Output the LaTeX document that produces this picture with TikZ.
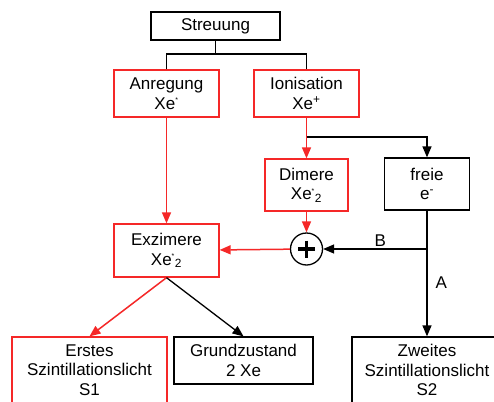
\documentclass[tikz,border=0pt]{standalone}
\usepackage{fontspec}
\setmainfont{Liberation Sans}
\usetikzlibrary{arrows.meta}
\definecolor{lightred}{RGB}{245,40,40}
\newcommand{\smallstar}{\textsuperscript{\fontsize{7}{7}\selectfont *}}

\begin{document}
\begin{tikzpicture}[x=1pt, y=-1pt, line width=1.3pt, >={Triangle[length=11pt,width=9pt]},
	every node/.style={font=\fontsize{17}{19.5}\selectfont, align=center, inner sep=0pt},
	box/.style 2 args={draw, fill=white, minimum width=#1, minimum height=#2},
	redbox/.style 2 args={box={#1}{#2}, draw=lightred},
	redline/.style={draw=lightred, line width=1.5pt, ->}]
	\fill[white] (0,0) rectangle (494,401);
	\useasboundingbox (0,0) rectangle (494,401);
	\node[box={129}{28}] (streu) at (215.5,26) {Streuung};
	\node[redbox={105}{47}] (anreg) at (166.5,93.5) {Anregung\\Xe\smallstar};
	\node[redbox={105}{47}] (ion) at (306.5,93.5) {Ionisation\\Xe\textsuperscript{+}};
	\node[redbox={83}{52}] (dim) at (306.5,185) {Dimere\\Xe\smallstar\textsubscript{2}};
	\node[box={85}{52}] (frei) at (427,184) {freie\\e\textsuperscript{-}};
	\node[draw, circle, fill=white, minimum size=32, path picture={
		\draw[line width=3.5pt] (path picture bounding box.center) ++(-8.5,0) -- ++(17,0);
		\draw[line width=3.5pt] (path picture bounding box.center) ++(0,-8.5) -- ++(0,17);}] (plus) at (306.5,249) {};
	\node[redbox={105}{53}] (exz) at (166.5,250.5) {Exzimere\\Xe\smallstar\textsubscript{2}};
	\node[redbox={155}{66}] (erst) at (89.5,370) {Erstes\\Szintillationslicht\\S1};
	\node[box={139}{47}] (grund) at (243.5,360.5) {Grundzustand\\2 Xe};
	\node[box={150}{66}] (zweit) at (427,370) {Zweites\\Szintillationslicht\\S2};

	\coordinate (split) at (215.5,54);
	\coordinate (ionsplit) at (306.5,137);
	\coordinate (fork) at (427,249);
	\draw (streu.south) -- (split);
	\draw (anreg.north) |- (split) -| (ion.north);
	\draw[redline] (anreg) -- (exz);
	\draw[redline] (ion) -- (dim);
	\draw[->] (ionsplit) -| (frei);
	\draw[redline] (dim) -- (plus);
	\draw[redline] (plus) -- (exz);
	\draw (frei) -- (fork);
	\draw[->] (fork) -- node[above=2pt, pos=0.45] {B} (plus);
	\draw[->] (fork) -- node[right=8pt, pos=0.39] {A} (zweit);
	\draw[redline] (exz.south) -- (erst.north);
	\draw[->] (exz.south) -- (grund.north);
\end{tikzpicture}
\end{document}
